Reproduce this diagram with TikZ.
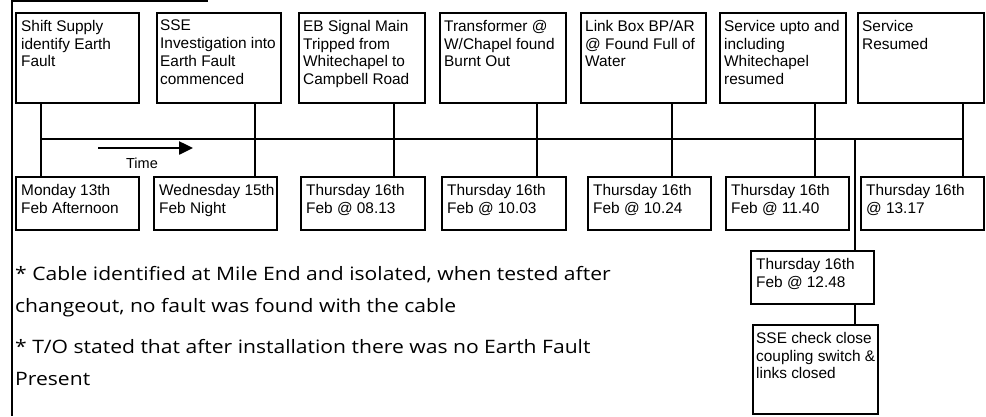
\documentclass[tikz,border=0pt]{standalone}
\usepackage{fontspec}
\setmainfont{Liberation Sans}
\newfontfamily\notefont[FakeStretch=1.14]{Open Sans}
\usetikzlibrary{arrows.meta}
\begin{document}
\begin{tikzpicture}[x=1pt,y=-1pt,
  ebox/.style={draw, line width=1.5pt, inner sep=0pt, anchor=north west},
  etext/.style={inner sep=0pt, anchor=north west, align=left, font=\fontsize{15.4}{17.8}\selectfont},
  conn/.style={line width=1.5pt},
  note/.style={inner sep=0pt, anchor=north west, align=left, font=\notefont\fontsize{18.5}{32}\selectfont}]
\useasboundingbox (0,0) rectangle (986,416);
% frame lines
\draw[line width=2.5pt] (12,0) -- (12,416);
\draw[line width=2pt] (11,1) -- (208,1);
% top boxes
\node[ebox, minimum width=123pt, minimum height=90pt] (t1) at (15,12) {};
\node[ebox, minimum width=124pt, minimum height=90pt] (t2) at (156,12) {};
\node[ebox, minimum width=126pt, minimum height=90pt] (t3) at (298,12) {};
\node[ebox, minimum width=126pt, minimum height=90pt] (t4) at (439,12) {};
\node[ebox, minimum width=125pt, minimum height=90pt] (t5) at (580,12) {};
\node[ebox, minimum width=126pt, minimum height=90pt] (t6) at (719,12) {};
\node[ebox, minimum width=126pt, minimum height=90pt] (t7) at (857,12) {};
\node[etext] (t1x) at ([xshift=6pt,yshift=-8pt]t1.north west) {Shift Supply\\identify Earth\\Fault};
\node[etext] (t2x) at ([xshift=4pt,yshift=-8pt]t2.north west) {SSE\\Investigation into\\Earth Fault\\commenced};
\node[etext] (t3x) at ([xshift=5pt,yshift=-8pt]t3.north west) {EB Signal Main\\Tripped from\\Whitechapel to\\Campbell Road};
\node[etext] (t4x) at ([xshift=5pt,yshift=-8pt]t4.north west) {Transformer @\\W/Chapel found\\Burnt Out};
\node[etext] (t5x) at ([xshift=5pt,yshift=-8pt]t5.north west) {Link Box BP/AR\\@ Found Full of\\Water};
\node[etext] (t6x) at ([xshift=5pt,yshift=-8pt]t6.north west) {Service upto and\\including\\Whitechapel\\resumed};
\node[etext] (t7x) at ([xshift=5pt,yshift=-8pt]t7.north west) {Service\\Resumed};
% bottom boxes
\node[ebox, minimum width=123pt, minimum height=53pt] (b1) at (15,176) {};
\node[ebox, minimum width=123pt, minimum height=53pt] (b2) at (153,176) {};
\node[ebox, minimum width=124pt, minimum height=53pt] (b3) at (300,176) {};
\node[ebox, minimum width=124pt, minimum height=53pt] (b4) at (441,176) {};
\node[ebox, minimum width=123pt, minimum height=53pt] (b5) at (587,176) {};
\node[ebox, minimum width=123pt, minimum height=53pt] (b6) at (725,176) {};
\node[ebox, minimum width=123pt, minimum height=53pt] (b7) at (860,176) {};
\node[etext] (b1x) at ([xshift=6pt,yshift=-8pt]b1.north west) {Monday 13th\\Feb Afternoon};
\node[etext] (b2x) at ([xshift=6pt,yshift=-8pt]b2.north west) {Wednesday 15th\\Feb Night};
\node[etext] (b3x) at ([xshift=6pt,yshift=-8pt]b3.north west) {Thursday 16th\\Feb @ 08.13};
\node[etext] (b4x) at ([xshift=6pt,yshift=-8pt]b4.north west) {Thursday 16th\\Feb @ 10.03};
\node[etext] (b5x) at ([xshift=6pt,yshift=-8pt]b5.north west) {Thursday 16th\\Feb @ 10.24};
\node[etext] (b6x) at ([xshift=6pt,yshift=-8pt]b6.north west) {Thursday 16th\\Feb @ 11.40};
\node[etext] (b7x) at ([xshift=6pt,yshift=-8pt]b7.north west) {Thursday 16th\\@ 13.17};
% branch boxes
\node[ebox, minimum width=123pt, minimum height=53pt] (c1) at (750,250) {};
\node[ebox, minimum width=125pt, minimum height=89pt] (c2) at (752,324) {};
\node[etext] (c1x) at ([xshift=6pt,yshift=-8pt]c1.north west) {Thursday 16th\\Feb @ 12.48};
\node[etext] (c2x) at ([xshift=4pt,yshift=-8pt]c2.north west) {SSE check close\\coupling switch \&\\links closed};
% timeline
\coordinate (v1) at (41,139);
\coordinate (v2) at (255,139);
\coordinate (v3) at (394,139);
\coordinate (v4) at (537,139);
\coordinate (v5) at (672,139);
\coordinate (v6) at (815,139);
\coordinate (v7) at (963,139);
\coordinate (vb) at (855,139);
\draw[conn] (v1) -- (v7);
\foreach \i in {1,...,7}{
  \draw[conn] (t\i.south -| v\i) -- (b\i.north -| v\i);
}
\draw[conn] (vb) -- (c1.north -| vb);
\draw[conn] (c1.south -| vb) -- (c2.north -| vb);
% time arrow
\coordinate (a1) at (98,148);
\coordinate (a2) at (193,148);
\draw[line width=2.5pt, -{Triangle[length=14pt,width=13pt]}] (a1) -- (a2);
\node[inner sep=0pt, anchor=base, font=\fontsize{14.5}{17}\selectfont] (tm) at (142,168) {Time};
% notes
\node[note] (n1) at (15,266) {* Cable identified at Mile End and isolated, when tested after\\changeout, no fault was found with the cable};
\node[note] (n2) at (15,339) {* T/O stated that after installation there was no Earth Fault\\Present};
\end{tikzpicture}
\end{document}
